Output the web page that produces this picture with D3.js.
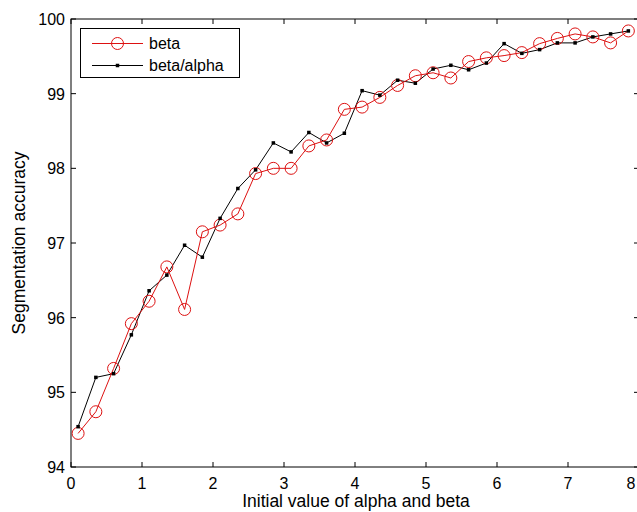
<!DOCTYPE html>
<html>
<head>
<meta charset="utf-8">
<script src="https://cdn.jsdelivr.net/npm/d3@7/dist/d3.min.js"></script>
<style>
  html, body { margin: 0; padding: 0; background: #fff; }
  svg { display: block; }
  text { font-family: "Liberation Sans", Arial, sans-serif; fill: #000; }
</style>
</head>
<body>
<svg id="chart" width="637" height="512"></svg>
<script>
// ---- data ----
const xValues = [0.1,0.35,0.6,0.85,1.1,1.35,1.6,1.85,2.1,2.35,2.6,2.85,3.1,3.35,3.6,3.85,
                 4.1,4.35,4.6,4.85,5.1,5.35,5.6,5.85,6.1,6.35,6.6,6.85,7.1,7.35,7.6,7.85];
const betaValues = [94.45,94.74,95.32,95.92,96.22,96.68,96.11,97.15,97.24,97.39,97.93,98.0,
                    98.0,98.30,98.38,98.79,98.82,98.95,99.11,99.24,99.28,99.21,99.43,99.48,
                    99.51,99.55,99.67,99.74,99.80,99.76,99.68,99.84];
const betaAlphaValues = [94.54,95.20,95.25,95.77,96.36,96.57,96.97,96.81,97.33,97.73,97.98,98.34,
                         98.22,98.48,98.34,98.47,99.04,98.98,99.18,99.14,99.33,99.38,99.32,99.41,
                         99.67,99.54,99.59,99.68,99.68,99.76,99.80,99.84];
const seriesNames = ["beta", "beta/alpha"];
const xTicks = [0,1,2,3,4,5,6,7,8];
const yTicks = [94,95,96,97,98,99,100];
const xLabel = "Initial value of alpha and beta";
const yLabel = "Segmentation accuracy";

// ---- layout ----
const svg = d3.select("#chart");
const L = 71, R = 639, T = 19, B = 467;
const x = d3.scaleLinear().domain([0, 8]).range([L, R]);
const y = d3.scaleLinear().domain([94, 100]).range([B, T]);
const red = "#dd1111";
const tickLen = 5;

// ticks on all four sides (inward)
const g = svg.append("g");
xTicks.forEach(t => {
  g.append("line").attr("x1", x(t)).attr("x2", x(t)).attr("y1", B).attr("y2", B - tickLen)
    .attr("stroke", "#000").attr("stroke-width", 1);
  g.append("line").attr("x1", x(t)).attr("x2", x(t)).attr("y1", T).attr("y2", T + tickLen)
    .attr("stroke", "#000").attr("stroke-width", 1);
  g.append("text").attr("x", x(t) - (t === 8 ? 8 : 0)).attr("y", B + 22).attr("text-anchor", "middle")
    .attr("font-size", 16).text(t);
});
yTicks.forEach(t => {
  g.append("line").attr("x1", L).attr("x2", L + tickLen).attr("y1", y(t)).attr("y2", y(t))
    .attr("stroke", "#000").attr("stroke-width", 1);
  g.append("line").attr("x1", R).attr("x2", R - tickLen).attr("y1", y(t)).attr("y2", y(t))
    .attr("stroke", "#000").attr("stroke-width", 1);
  g.append("text").attr("x", L - 6).attr("y", y(t) + 6).attr("text-anchor", "end")
    .attr("font-size", 16).text(t);
});

// box
svg.append("rect").attr("x", L).attr("y", T).attr("width", R - L).attr("height", B - T)
  .attr("fill", "none").attr("stroke", "#000").attr("stroke-width", 1);

// axis labels
svg.append("text").attr("x", 356).attr("y", 507).attr("text-anchor", "middle")
  .attr("font-size", 17.5).text(xLabel);
svg.append("text").attr("transform", `translate(25, 243) rotate(-90)`)
  .attr("text-anchor", "middle").attr("font-size", 17.5).text(yLabel);

// lines
const line = d3.line().x(d => x(d[0])).y(d => y(d[1]));
const betaData = xValues.map((v, i) => [v, betaValues[i]]);
const baData = xValues.map((v, i) => [v, betaAlphaValues[i]]);

svg.append("path").datum(baData).attr("d", line).attr("fill", "none")
  .attr("stroke", "#000").attr("stroke-width", 1);
svg.append("path").datum(betaData).attr("d", line).attr("fill", "none")
  .attr("stroke", red).attr("stroke-width", 1);

svg.selectAll("circle.beta").data(betaData).enter().append("circle")
  .attr("class", "beta").attr("cx", d => x(d[0])).attr("cy", d => y(d[1])).attr("r", 6)
  .attr("fill", "none").attr("stroke", red).attr("stroke-width", 1);
svg.selectAll("rect.ba").data(baData).enter().append("rect")
  .attr("class", "ba").attr("x", d => x(d[0]) - 1.75).attr("y", d => y(d[1]) - 1.75)
  .attr("width", 3.5).attr("height", 3.5).attr("fill", "#000");

// legend
const lg = svg.append("g");
lg.append("rect").attr("x", 80.5).attr("y", 28.5).attr("width", 159).attr("height", 49)
  .attr("fill", "#fff").attr("stroke", "#000").attr("stroke-width", 1);
const ly1 = 43.5, ly2 = 65.5;
lg.append("line").attr("x1", 92).attr("x2", 143).attr("y1", ly1).attr("y2", ly1)
  .attr("stroke", red).attr("stroke-width", 1);
lg.append("circle").attr("cx", 117.5).attr("cy", ly1).attr("r", 6)
  .attr("fill", "none").attr("stroke", red).attr("stroke-width", 1);
lg.append("text").attr("x", 149).attr("y", ly1 + 5.5).attr("font-size", 16).text(seriesNames[0]);
lg.append("line").attr("x1", 92).attr("x2", 143).attr("y1", ly2).attr("y2", ly2)
  .attr("stroke", "#000").attr("stroke-width", 1);
lg.append("rect").attr("x", 117.5 - 1.75).attr("y", ly2 - 1.75).attr("width", 3.5).attr("height", 3.5)
  .attr("fill", "#000");
lg.append("text").attr("x", 149).attr("y", ly2 + 5.5).attr("font-size", 16).text(seriesNames[1]);
</script>
</body>
</html>
